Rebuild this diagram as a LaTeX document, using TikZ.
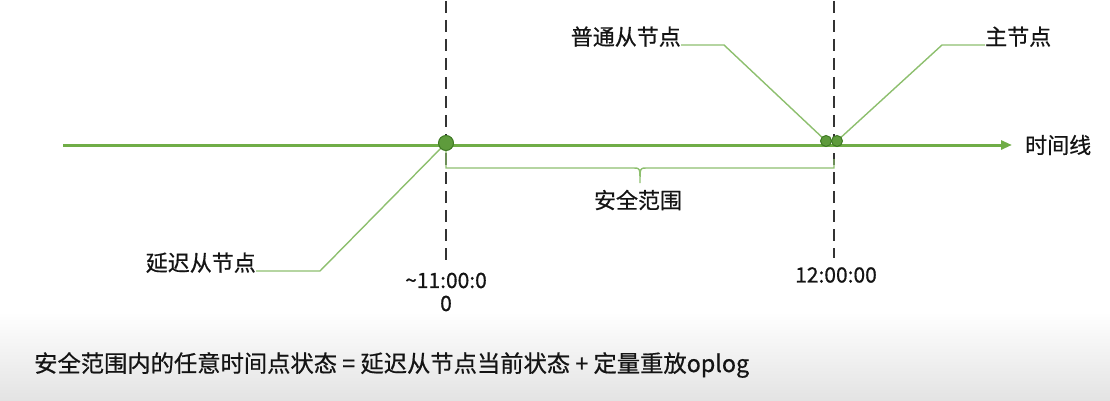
\documentclass[tikz,border=0pt]{standalone}
\usepackage{fontspec}
\setmainfont{Noto Sans CJK SC}[FakeBold=0.6]
\usetikzlibrary{arrows.meta}
\definecolor{lineGreen}{HTML}{70AD47}
\definecolor{leadGreen}{HTML}{8DBF6E}
\definecolor{dotGreen}{HTML}{5E9B3C}
\definecolor{dotEdge}{HTML}{3F7A24}
\tikzset{
	lbl/.style={inner sep=0pt, text=black!92, font=\fontsize{22}{26}\selectfont},
	stamp/.style={inner sep=0pt, text=black!92, align=center, font=\fontsize{21}{23}\selectfont},
	lead/.style={leadGreen, line width=1.4pt},
	marker/.style={dash pattern=on 12pt off 7pt, line width=2pt, color=black!80},
	dot/.style={circle, fill=dotGreen, draw=dotEdge, line width=1pt, inner sep=0pt, minimum size=#1}
}

\begin{document}
\begin{tikzpicture}[x=1pt, y=-1pt]
			%%%%% START %%%%%
			\useasboundingbox (0, 0) rectangle (1110, 401);
			\shade[top color=white, bottom color=black!11] (0, 312) rectangle (1110, 401);
			
			% time markers
			\draw[marker] (446, 1) -- (446, 260);
			\draw[marker] (834, 1) -- (834, 258);
			
			% time line
			\node[lbl, anchor=west] (timeline) at (1025, 145) {时间线};
			\coordinate (start) at (63, 145);
			\draw[lineGreen, line width=3pt, -{Triangle[length=11pt, width=9pt]}] (start) -- (1012, 145);
			
			% safe range
			\draw[lead] (446, 150) -- (446, 168) -- (634, 168) .. controls (640, 168) .. (640, 183)
				.. controls (640, 168) .. (646, 168) -- (834, 168) -- (834, 159);
			\node[lbl] (safe) at (638, 200) {安全范围};
			
			% labels
			\node[lbl, anchor=base east] (late) at (256, 271) {延迟从节点};
			\node[lbl, anchor=base east] (normal) at (681, 45) {普通从节点};
			\node[lbl, anchor=base west] (master) at (985, 45) {主节点};
			\coordinate (lateknee) at (320, 271);
			\coordinate (normalknee) at (724, 45);
			\coordinate (masterknee) at (942, 45);
			
			\coordinate (dotlate) at (446, 143);
			\coordinate (dotnormal) at (826, 141);
			\coordinate (dotmaster) at (837, 141);
			
			\draw[lead] (late.base east) -- (lateknee) -- (dotlate);
			\draw[lead] (normal.base east) -- (normalknee) -- (dotnormal);
			\draw[lead] (master.base west) -- (masterknee) -- (dotmaster);
			
			\node[dot=15pt] at (dotlate) {};
			\node[dot=11pt] at (dotnormal) {};
			\node[dot=11pt] at (dotmaster) {};
			
			% stamps
			\node[stamp] (eleven) at (446, 292) {\textasciitilde 11:00:0\\0};
			\node[stamp] (twelve) at (836, 275) {12:00:00};
			
			% formula
			\node[lbl, anchor=west, font=\fontsize{23.3}{27}\selectfont] (formula) at (34, 365)
				{安全范围内的任意时间点状态 = 延迟从节点当前状态 + 定量重放oplog};
			%%%%% END %%%%%
\end{tikzpicture}
\end{document}
